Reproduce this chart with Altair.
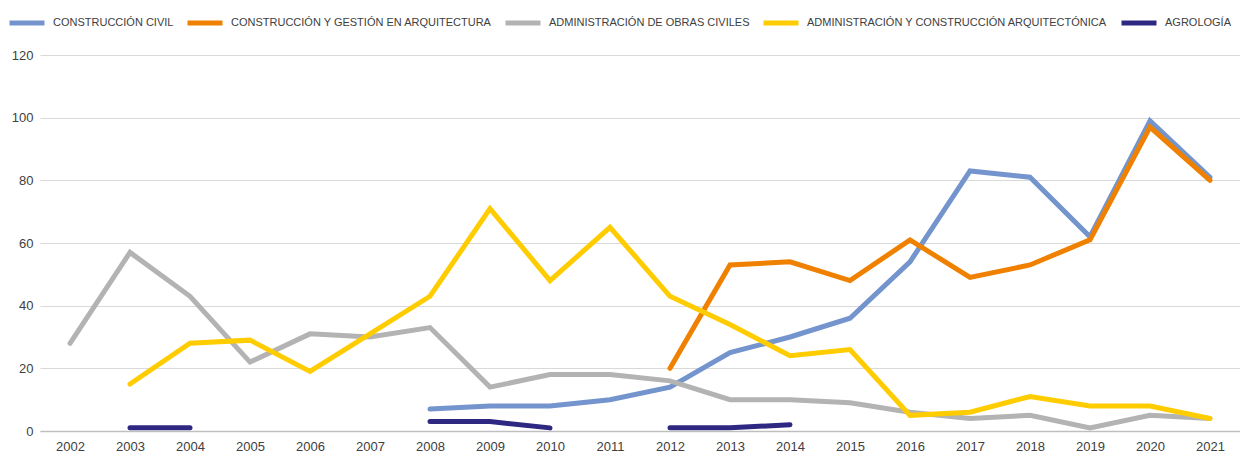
import altair as alt
import pandas as pd

years = [str(y) for y in range(2002, 2022)]

series_names = [
    "CONSTRUCCIÓN CIVIL",
    "CONSTRUCCIÓN Y GESTIÓN EN ARQUITECTURA",
    "ADMINISTRACIÓN DE OBRAS CIVILES",
    "ADMINISTRACIÓN Y CONSTRUCCIÓN ARQUITECTÓNICA",
    "AGROLOGÍA",
]
colors = ["#7494CD", "#F08000", "#B3B3B3", "#FFCC00", "#2E2882"]

# None = no value for that year
construccion_civil = [None, None, None, None, None, None, 7, 8, 8, 10, 14, 25, 30, 36, 54, 83, 81, 62, 99, 81]
construccion_gestion = [None, None, None, None, None, None, None, None, None, None, 20, 53, 54, 48, 61, 49, 53, 61, 97, 80]
admin_obras = [28, 57, 43, 22, 31, 30, 33, 14, 18, 18, 16, 10, 10, 9, 6, 4, 5, 1, 5, 4]
admin_arq = [None, 15, 28, 29, 19, 31, 43, 71, 48, 65, 43, 34, 24, 26, 5, 6, 11, 8, 8, 4]
agrologia = [None, 1, 1, None, None, None, 3, 3, 1, None, 1, 1, 2, None, None, None, None, None, None, None]

all_series = [construccion_civil, construccion_gestion, admin_obras, admin_arq, agrologia]

rows = []
for name, vals in zip(series_names, all_series):
    seg = 0
    prev = None
    for yr, v in zip(years, vals):
        if v is None:
            if prev is not None:
                seg += 1
            prev = None
            continue
        rows.append({"year": yr, "value": v, "series": name, "segment": f"{name}-{seg}"})
        prev = v
df = pd.DataFrame(rows)

font = "Liberation Sans"

chart = alt.Chart(df).mark_line(strokeWidth=5, strokeCap="round", strokeJoin="miter").encode(
    x=alt.X("year:O", scale=alt.Scale(domain=years, type="point", padding=0.5),
            axis=alt.Axis(title=None, labelAngle=0, ticks=False, domain=True, domainColor="#BFBFBF",
                          domainWidth=1.5, labelPadding=9, labelFontSize=13, labelColor="#404040",
                          labelFont=font)),
    y=alt.Y("value:Q", scale=alt.Scale(domain=[0, 120], nice=False),
            axis=alt.Axis(title=None, values=[0, 20, 40, 60, 80, 100, 120], ticks=False, domain=False,
                          gridColor="#D9D9D9", gridWidth=1, labelPadding=7, labelFontSize=13,
                          labelColor="#404040", labelFont=font)),
    color=alt.Color("series:N", scale=alt.Scale(domain=series_names, range=colors),
                    legend=alt.Legend(title=None, orient="none", legendX=-33, legendY=-52,
                                      direction="horizontal", symbolType="stroke", symbolStrokeWidth=5,
                                      symbolSize=1225, labelFontSize=11, labelFont=font,
                                      labelColor="#404040", labelOffset=6, columnPadding=3,
                                      labelLimit=0)),
    detail="segment:N",
    order=alt.Order("year:O"),
).properties(
    width=1200, height=376,
    padding={"left": 32, "top": 47, "right": 0, "bottom": 24},
    autosize=alt.AutoSizeParams(type="none"),
).configure_view(stroke=None)

chart.save("out.html", embed_options={"renderer": "svg", "actions": False})
